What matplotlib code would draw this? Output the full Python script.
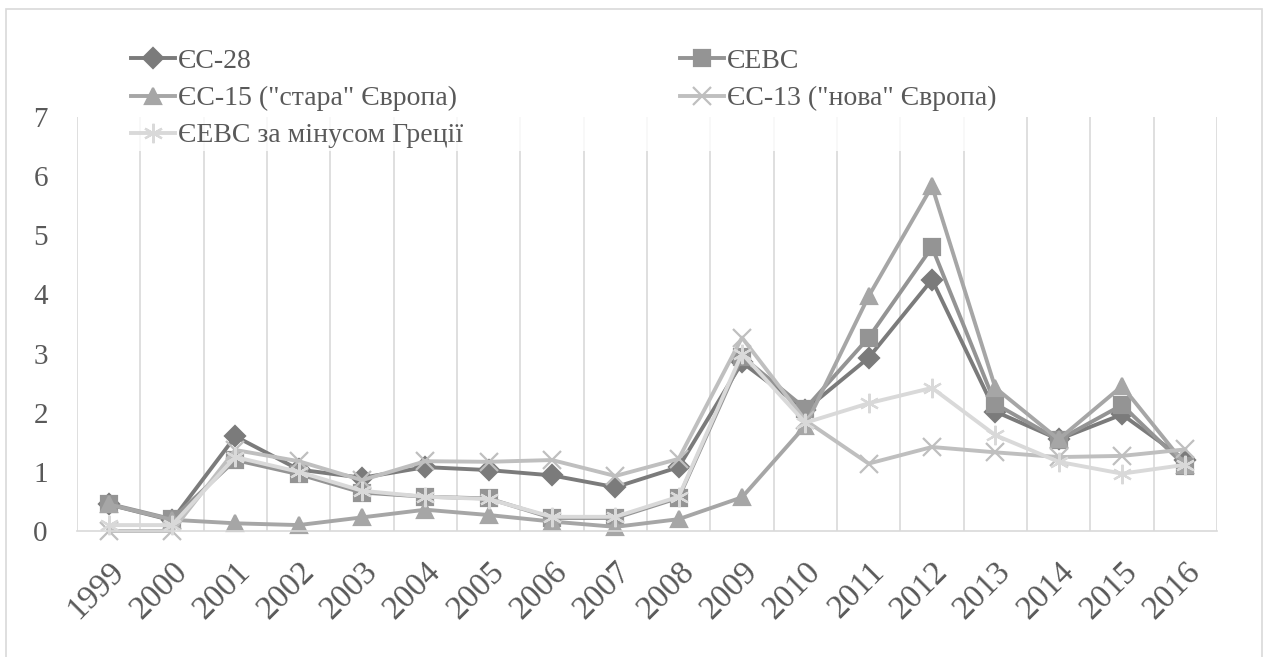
import matplotlib.pyplot as plt
from matplotlib.patches import Rectangle

plt.rcParams['font.family'] = ['Liberation Serif', 'DejaVu Serif']

years = [str(y) for y in range(1999, 2017)]

eu28 = [0.45, 0.18, 1.60, 1.04, 0.90, 1.08, 1.03, 0.94, 0.74, 1.08, 2.85, 2.05, 2.93, 4.25, 2.02, 1.55, 1.97, 1.20]
ea = [0.46, 0.20, 1.20, 0.96, 0.65, 0.58, 0.55, 0.22, 0.22, 0.56, 2.95, 2.07, 3.27, 4.80, 2.15, 1.54, 2.13, 1.10]
eu15 = [0.45, 0.19, 0.13, 0.10, 0.23, 0.36, 0.27, 0.16, 0.07, 0.20, 0.57, 1.78, 3.97, 5.83, 2.42, 1.55, 2.45, 1.12]
eu13 = [0.00, 0.00, 1.37, 1.18, 0.86, 1.18, 1.17, 1.20, 0.93, 1.22, 3.27, 1.87, 1.14, 1.42, 1.33, 1.25, 1.27, 1.38]
ea_ex_gr = [0.10, 0.10, 1.25, 1.00, 0.68, 0.58, 0.54, 0.24, 0.24, 0.58, 3.00, 1.83, 2.16, 2.42, 1.62, 1.17, 0.97, 1.12]

labels = ['ЄС-28', 'ЄЕВС', 'ЄС-15 ("стара" Європа)', 'ЄС-13 ("нова" Європа)', 'ЄЕВС за мінусом Греції']
colors = ['#7b7b7b', '#949494', '#a6a6a6', '#bfbfbf', '#d9d9d9']
markers = ['D', 's', '^', 'x', (6, 2, 0)]
sizes = [10, 12, 12, 13, 14]

W, H = 1264, 657
fig = plt.figure(figsize=(W / 100, H / 100), dpi=100)
# outer chart border (bottom edge falls outside the image)
fig.patches.append(Rectangle((6 / W, -0.05), (1262 - 6) / W, 1.05 - 9 / H, transform=fig.transFigure,
                             fill=False, edgecolor='#d9d9d9', lw=1.2))

ax = fig.add_axes([77 / W, 1 - 531 / H, (1217 - 77) / W, (531 - 117) / H])
x = list(range(len(years)))
lines = []
for ys, lab, c, m, ms in zip([eu28, ea, eu15, eu13, ea_ex_gr], labels, colors, markers, sizes):
    ln, = ax.plot(x, ys, color=c, lw=2.8, marker=m, markersize=ms, markeredgewidth=1.6,
                  markeredgecolor=c, markerfacecolor=c, label=lab, clip_on=False)
    lines.append(ln)

ax.set_xlim(-0.5, len(years) - 0.5)
ax.set_ylim(0, 7)
ax.set_yticks(range(8))
ax.set_xticks(x)
ax.set_xticklabels(years, rotation=45, ha='right', rotation_mode='anchor')
ax.set_xticks([i - 0.5 for i in range(len(years) + 1)], minor=True)
ax.grid(True, axis='x', which='minor', color='#d9d9d9', lw=1.2)
ax.grid(False, axis='x', which='major')
ax.tick_params(axis='both', which='both', length=0, colors='#595959')
ax.tick_params(axis='x', pad=18, labelsize=24)
ax.tick_params(axis='y', pad=21, labelsize=21)
for s in ['top', 'right', 'left']:
    ax.spines[s].set_visible(False)
ax.spines['bottom'].set_color('#d9d9d9')
ax.spines['bottom'].set_linewidth(1.2)

# legend: 2 columns, order rearranged so rows read left to right
order = [0, 2, 4, 1, 3]
leg = fig.legend([lines[i] for i in order], [labels[i] for i in order], ncol=2,
                 loc='upper left', bbox_to_anchor=(128 / W, 1 - 46 / H), frameon=True,
                 fontsize=20, handlelength=1.6, handletextpad=0.1, labelspacing=0.42,
                 columnspacing=7.8, borderpad=0.1, borderaxespad=0)
leg.get_frame().set_facecolor('white')
leg.get_frame().set_edgecolor('none')
for t in leg.get_texts():
    t.set_color('#595959')

fig.savefig('out.png', dpi=100)
